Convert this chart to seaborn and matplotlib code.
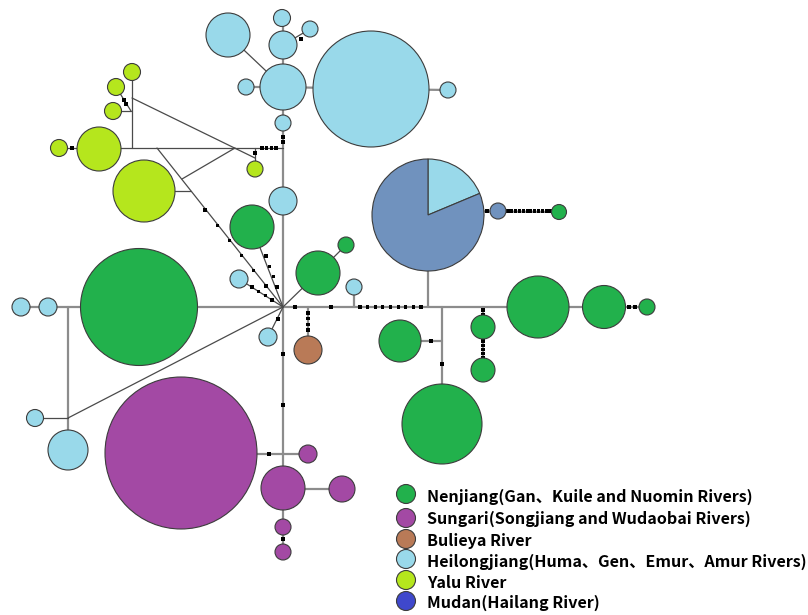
import numpy as np
import pandas as pd
import matplotlib
matplotlib.use("Agg")
import matplotlib.pyplot as plt
import seaborn as sns

sns.set_theme(style="white")

W, H, DPI = 808, 615, 100

# ---------------- data: haplotype nodes (layout position, radius, region) -------------
node_x = [228, 282, 310, 283, 283, 246, 371, 448, 283, 283, 239, 354, 268, 21, 48, 35, 68,
          132, 116, 113, 99, 59, 144, 255,
          252, 318, 346, 139, 400, 442, 483, 483, 538, 604, 647, 559,
          181, 308, 283, 342, 283, 283,
          308, 498]
node_y = [35, 18, 29, 45, 87, 87, 89, 90, 123, 201, 279, 287, 337, 307, 307, 418, 450,
          72, 87, 111, 149, 148, 191, 169,
          227, 273, 245, 307, 341, 424, 327, 370, 307, 307, 307, 212,
          453, 454, 488, 489, 527, 552,
          350, 211]
node_r = [22, 8.5, 8, 14, 23, 8, 58, 8, 8, 14, 9, 8, 9, 9, 9, 8.5, 20,
          8.5, 8.5, 8.5, 22, 8.5, 31, 8,
          22, 22, 8, 58.5, 21, 40, 12, 12, 31, 21.5, 8, 7.5,
          76, 9, 22, 13, 8, 8,
          14, 8]
node_group = (["Heilongjiang"] * 17 + ["Yalu"] * 7 + ["Nenjiang"] * 12 +
              ["Sungari"] * 6 + ["Bulieya", "Mixed"])

# shared haplotype drawn as a pie (Heilongjiang share / other share)
pie_center = (428, 215)
pie_radius = 56
pie_values = [0.187, 0.813]

# ---------------- data: network links ------------------------------------------------
main_links = [  # x0, y0, x1, y1
    (21, 307, 647, 307), (283, 18, 283, 552), (428, 268, 428, 307),
    (442, 307, 442, 387), (68, 307, 68, 450), (246, 87, 283, 87),
    (283, 87, 371, 89), (371, 89, 448, 90), (181, 454, 308, 454),
    (283, 489, 342, 489), (354, 287, 354, 307), (308, 307, 308, 350),
    (400, 341, 442, 341), (483, 307, 483, 370), (428, 211, 559, 212),
]
thin_links = [
    (228, 35, 283, 87), (283, 45, 310, 29), (132, 72, 132, 148),
    (116, 87, 131, 111), (113, 111, 131, 111), (132, 98, 255, 158),
    (255, 148, 255, 169), (59, 148, 283, 148), (235, 148, 182, 179),
    (157, 148, 283, 307), (175, 191, 191, 191), (252, 227, 283, 307),
    (239, 279, 283, 307), (318, 273, 283, 307), (318, 273, 346, 245),
    (268, 337, 283, 307), (35, 418, 68, 418), (68, 418, 283, 307),
]
# mutation steps: runs of black dots (x0, y0, x1, y1, count)
mutation_runs = [
    (283, 137, 283, 142, 2), (262, 148, 276, 148, 4), (301, 39, 301, 39, 1),
    (124, 100, 126, 104, 2), (72, 148, 72, 148, 1), (255, 153, 255, 153, 1),
    (205, 210, 266, 286, 6), (266, 256, 277, 287, 4), (252, 287, 272, 300, 4),
    (278, 319, 278, 319, 1), (295, 307, 295, 307, 1), (331, 307, 331, 307, 1),
    (360, 307, 421, 307, 9), (308, 313, 308, 330, 4), (283, 354, 283, 354, 1),
    (283, 405, 283, 405, 1), (269, 454, 269, 454, 1), (283, 539, 283, 539, 1),
    (431, 341, 431, 341, 1), (442, 364, 442, 364, 1), (483, 310, 483, 315, 2),
    (483, 341, 483, 358, 5), (629, 307, 635, 307, 2), (487, 211, 487, 211, 1),
    (508, 211, 550, 211, 12),
]

legend_labels = ["Nenjiang(Gan、Kuile and Nuomin Rivers)",
                 "Sungari(Songjiang and Wudaobai Rivers)",
                 "Bulieya River",
                 "Heilongjiang(Huma、Gen、Emur、Amur Rivers)",
                 "Yalu River",
                 "Mudan(Hailang River)"]
legend_groups = ["Nenjiang", "Sungari", "Bulieya", "Heilongjiang", "Yalu", "Mudan"]

palette = {"Nenjiang": "#22B14C", "Sungari": "#A349A4", "Bulieya": "#B97A57",
           "Heilongjiang": "#99D9EA", "Yalu": "#B5E61D", "Mudan": "#3F48CC",
           "Mixed": "#7092BE"}

# ---------------- figure ----------------------------------------------------------------
fig = plt.figure(figsize=(W / DPI, H / DPI), dpi=DPI)
ax = fig.add_axes([0, 0, 1, 1])


def links_frame(links):
    rows = []
    for i, (x0, y0, x1, y1) in enumerate(links):
        rows.append((i, x0, y0))
        rows.append((i, x1, y1))
    return pd.DataFrame(rows, columns=["seg", "x", "y"])


sns.lineplot(data=links_frame(main_links), x="x", y="y", units="seg", estimator=None,
             sort=False, color="#8c8c8c", linewidth=1.6, ax=ax, zorder=1)
sns.lineplot(data=links_frame(thin_links), x="x", y="y", units="seg", estimator=None,
             sort=False, color="#4a4a4a", linewidth=0.9, ax=ax, zorder=1)

# mutation dots
dots = []
for x0, y0, x1, y1, n in mutation_runs:
    t = np.linspace(0, 1, n) if n > 1 else np.array([0.0])
    for tt in t:
        dots.append((x0 + (x1 - x0) * tt, y0 + (y1 - y0) * tt))
dots = pd.DataFrame(dots, columns=["x", "y"])
sns.scatterplot(data=dots, x="x", y="y", marker="s", s=5, color="black",
                edgecolor="none", ax=ax, zorder=3, legend=False)

# haplotype nodes
nodes = pd.DataFrame({"x": node_x, "y": node_y, "r": node_r, "group": node_group})
sizes = (2 * nodes["r"].to_numpy() * 72 / DPI) ** 2
sns.scatterplot(data=nodes, x="x", y="y", hue="group", palette=palette, s=sizes,
                edgecolor="#3c3c3c", linewidth=0.8, ax=ax, zorder=4, legend=False)

# pie haplotype (y axis inverted -> start at 270 counter-clockwise)
ax.pie(pie_values, colors=[palette["Heilongjiang"], palette["Mixed"]], center=pie_center,
       radius=pie_radius, startangle=270, counterclock=True, frame=True,
       wedgeprops=dict(edgecolor="#3c3c3c", linewidth=0.8, zorder=4))

# legend
leg_y_marker = [494, 518, 539, 559, 580, 601]
leg_y_text = [497, 519, 541, 562, 583, 603]
leg = pd.DataFrame({"x": [406] * 6, "y": leg_y_marker, "group": legend_groups})
sns.scatterplot(data=leg, x="x", y="y", hue="group", palette=palette,
                s=(2 * 9.5 * 72 / DPI) ** 2, edgecolor="#3c3c3c", linewidth=0.8,
                ax=ax, zorder=4, legend=False)
for lab, yy in zip(legend_labels, leg_y_text):
    ax.text(427, yy, lab, fontsize=11.6, fontweight="bold", va="center", ha="left",
            family=["Noto Sans CJK SC", "DejaVu Sans"], color="black")

ax.set_xlim(0, W)
ax.set_ylim(H, 0)
ax.set_aspect("auto")
ax.set_axis_off()
fig.savefig("out.png", dpi=DPI, facecolor="white")
